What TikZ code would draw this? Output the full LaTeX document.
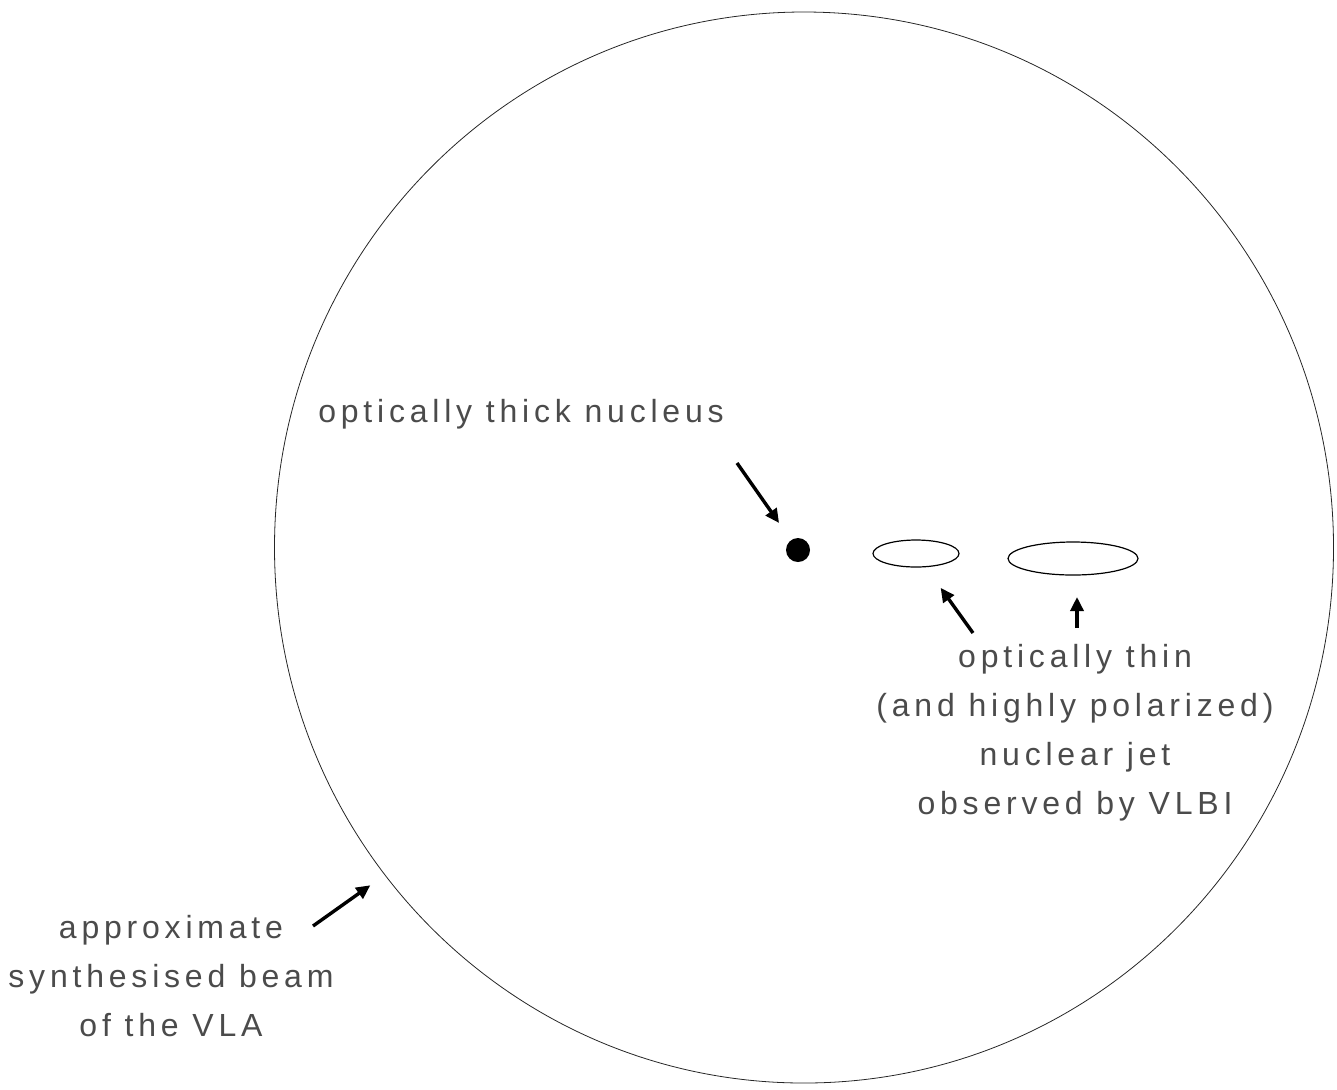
\documentclass[tikz,border=0pt]{standalone}
\usepackage{fontspec}
\setmainfont{Liberation Sans}[LetterSpace=15]
\usetikzlibrary{positioning,arrows.meta,shapes.geometric}
\definecolor{inkgray}{RGB}{75,75,75}

\begin{document}
\begin{tikzpicture}[x=0.5pt,y=-0.5pt,>={Triangle[length=7pt,width=6.5pt]},
  lbl/.style={text=inkgray,align=center,inner sep=0pt,font=\fontsize{16}{24.5}\selectfont},
  ptr/.style={->,line width=1.7pt},
  knot/.style={draw,ellipse,line width=0.6pt,inner sep=0pt,outer sep=0pt}]
  \useasboundingbox (0,0) rectangle (1337,1089);
  % VLA beam and the compact structure inside it
  \node[ellipse,draw=black!85,line width=0.4pt,minimum width=529.5pt,minimum height=535.5pt,
    inner sep=0pt,outer sep=0pt] (beam) at (804,547.5) {};
  \node[circle,fill,minimum size=12pt,inner sep=0pt,outer sep=0pt] (nucleus) at (798,550) {};
  \node[knot,minimum width=43pt,minimum height=13.5pt] (knotA) at (916,553.5) {};
  \node[knot,minimum width=65pt,minimum height=16.5pt] (knotB) at (1073,558.5) {};
  % labels
  \node[lbl] (thick) at (521,414) {optically thick nucleus};
  \node[lbl] (thin) at (1075,733) {optically thin\\(and highly polarized)\\nuclear jet\\observed by VLBI};
  \node[lbl] (vla) at (171,976) {approximate\\synthesised beam\\of the VLA};
  % arrow tails
  \coordinate (tailN) at (737,463);
  \coordinate (tailA) at (973,633);
  \coordinate (tailB) at (1077,628);
  \coordinate (tailV) at (313,926);
  \draw[ptr,shorten >=10.5pt] (tailN) -- (nucleus);
  \draw[ptr,shorten >=13pt] (tailA) -- (knotA);
  \draw[ptr,shorten >=11pt] (tailB) -- (tailB |- knotB.south);
  \draw[ptr,shorten >=9pt] (tailV) -- (beam.218);
\end{tikzpicture}
\end{document}
